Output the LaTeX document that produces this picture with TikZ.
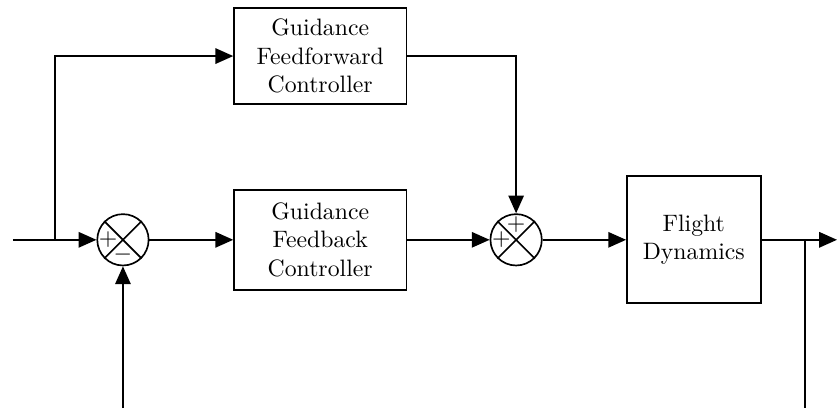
\documentclass[tikz,border=0pt]{standalone}
\usepackage{amsmath,amssymb}
\usepackage{tikz}
\usetikzlibrary{arrows.meta}

\begin{document}
\begin{tikzpicture}[line width=0.7pt, >={Triangle[length=7.5pt,width=6.5pt]},
    block/.style={draw, align=center, minimum width=2.55cm, minimum height=1.48cm},
    sum/.style={draw, circle, minimum size=0.76cm, inner sep=0pt},
    sign/.style={font=\normalsize, inner sep=0pt}]
  \useasboundingbox (0,0) rectangle (12.39,6.04);
  \coordinate (in) at (0.19,2.49);
  \coordinate (split) at (0.81,2.49);
  \node[sum] (sum1) at (1.82,2.49) {};
  \node[block] (fb) at (4.74,2.49) {Guidance\\Feedback\\Controller};
  \node[block, minimum height=1.42cm] (ff) at (4.74,5.21) {Guidance\\Feedforward\\Controller};
  \node[sum] (sum2) at (7.64,2.49) {};
  \node[block, minimum width=1.98cm, minimum height=1.88cm] (fd) at (10.27,2.49) {Flight\\Dynamics};
  \coordinate (out) at (12.39,2.49);
  \coordinate (tap) at (11.92,2.49);
  \coordinate (bot1) at (1.82,0);
  \coordinate (bot2) at (11.92,0);
  % summing junctions
  \foreach \s in {sum1,sum2}{
      \draw (\s.north west) -- (\s.south east);
      \draw (\s.north east) -- (\s.south west);
  }
  \node[sign] (sum1p) at ([xshift=-0.22cm]sum1.center) {$+$};
  \node[sign] (sum1m) at ([yshift=-0.22cm]sum1.center) {$-$};
  \node[sign] (sum2p) at ([xshift=-0.22cm]sum2.center) {$+$};
  \node[sign] (sum2q) at ([yshift=0.22cm]sum2.center) {$+$};
  % signals
  \draw[->] (in) -- (sum1);
  \draw[->] (split) |- (ff);
  \draw[->] (sum1) -- (fb);
  \draw[->] (fb) -- (sum2);
  \draw[->] (ff) -| (sum2);
  \draw[->] (sum2) -- (fd);
  \draw[->] (fd) -- (out);
  \draw (tap) -- (bot2);
  \draw[->] (bot1) -- (sum1);
\end{tikzpicture}
\end{document}
